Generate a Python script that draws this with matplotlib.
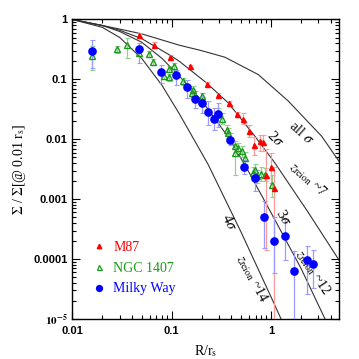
import numpy as np
import matplotlib
matplotlib.use("Agg")
import matplotlib.pyplot as plt
from matplotlib.lines import Line2D
from matplotlib.ticker import LogLocator, FixedLocator, FixedFormatter, NullFormatter

plt.rcParams['font.family'] = ['Liberation Serif', 'DejaVu Serif']
plt.rcParams['mathtext.fontset'] = 'stix'

# model curves as (R/rs, log10 Sigma)
all_sig_R = [0.01, 0.02, 0.03, 0.05, 0.12, 0.2, 0.344, 0.745, 1.49, 3.24, 4.9]
all_sig_L = [0.0, -0.10, -0.16, -0.24, -0.43, -0.52, -0.63, -0.92, -1.36, -1.95, -2.38]

sig2_R = [0.01, 0.02, 0.03, 0.05, 0.097, 0.12, 0.225, 0.37, 0.69, 1.10, 2.37, 4.9]
sig2_L = [0.0, -0.10, -0.18, -0.32, -0.60, -0.70, -1.06, -1.39, -1.95, -2.40, -3.22, -4.03]

sig3_R = [0.01, 0.02, 0.03, 0.05, 0.08, 0.12, 0.2, 0.386, 0.6, 1.02, 2.0, 3.5]
sig3_L = [0.0, -0.10, -0.20, -0.38, -0.65, -0.95, -1.35, -2.0, -2.55, -3.25, -4.15, -5.0]

sig4_R = [0.01, 0.02, 0.03, 0.05, 0.08, 0.12, 0.233, 0.5, 1.0, 1.28]
sig4_L = [0.0, -0.13, -0.30, -0.65, -1.10, -1.58, -2.42, -3.55, -4.63, -5.02]

# M87
m87_R = [0.0472, 0.0665, 0.0963, 0.152, 0.228, 0.295, 0.379, 0.452, 0.526, 0.60, 0.67, 0.78, 0.84, 0.90, 1.0, 1.06]
m87_S = [0.547, 0.382, 0.234, 0.166, 0.085, 0.0557, 0.0405, 0.0265, 0.0219, 0.0136, 0.0081, 0.0092, 0.0089, 0.00257, 0.0035, 0.00154]
m87_lo = [0.50, 0.35, 0.215, 0.155, 0.079, 0.052, 0.037, 0.024, 0.018, 0.011, 0.0055, 0.0065, 0.0065, 0.00014, 0.0019, 1e-6]
m87_hi = [0.60, 0.42, 0.255, 0.177, 0.091, 0.060, 0.044, 0.029, 0.027, 0.017, 0.011, 0.012, 0.012, 0.0069, 0.0058, 0.0035]

# NGC 1407
ngc_R = [0.0157, 0.0284, 0.0353, 0.0469, 0.0592, 0.065, 0.0838, 0.094, 0.094, 0.106, 0.131, 0.159, 0.165,
         0.201, 0.201, 0.295, 0.318, 0.357, 0.37, 0.434, 0.434, 0.469, 0.506, 0.547, 0.66, 0.69, 0.72, 0.80, 0.88, 1.03]
ngc_S = [0.244, 0.324, 0.382, 0.277, 0.27, 0.196, 0.116, 0.151, 0.108, 0.166, 0.093, 0.059, 0.0676,
         0.052, 0.043, 0.0275, 0.0219, 0.0145, 0.0127, 0.0076, 0.0059, 0.00716, 0.0063, 0.0049, 0.00274, 0.0031, 0.00247, 0.00265, 0.00257, 0.00174]
ngc_lo = [0.146, 0.28, 0.228, 0.245, 0.24, 0.175, 0.10, 0.135, 0.095, 0.146, 0.082, 0.050, 0.058,
          0.045, 0.037, 0.023, 0.018, 0.012, 0.0105, 0.0062, 0.0025, 0.0058, 0.0051, 0.0039, 0.0021, 0.0024, 0.0019, 0.0020, 0.0020, 0.0011]
ngc_hi = [0.36, 0.36, 0.49, 0.31, 0.30, 0.22, 0.135, 0.17, 0.122, 0.19, 0.106, 0.068, 0.078,
          0.060, 0.050, 0.033, 0.027, 0.0175, 0.0155, 0.0093, 0.0085, 0.0088, 0.0077, 0.0062, 0.0035, 0.0039, 0.0031, 0.0034, 0.0033, 0.0025]

# Milky Way
mw_R = [0.0157, 0.0469, 0.0776, 0.111, 0.1416, 0.1724, 0.2035, 0.234, 0.267, 0.294, 0.386, 0.537, 0.69,
        0.844, 1.07, 1.39, 1.70, 2.32, 2.63]
mw_S = [0.30, 0.32, 0.133, 0.117, 0.0748, 0.047, 0.040, 0.029, 0.0219, 0.0269, 0.0098, 0.00344, 0.00226,
        0.00051, 0.000204, 0.00024, 0.0000631, 0.0000973, 0.0000832]
mw_lo = [0.155, 0.19, 0.087, 0.082, 0.049, 0.033, 0.0275, 0.0176, 0.0145, 0.016, 0.0081, 0.0026, 0.00136,
         0.000152, 0.0000585, 0.0000955, 1e-6, 0.0000266, 0.0000327]
mw_hi = [0.46, 0.41, 0.177, 0.146, 0.099, 0.063, 0.059, 0.043, 0.0334, 0.040, 0.0127, 0.0045, 0.0031,
         0.00093, 0.00051, 0.00046, 0.000135, 0.000163, 0.000143]

ytick_vals = [1e-5, 1e-4, 1e-3, 1e-2, 1e-1, 1]
ytick_labels = [r'$\mathbf{10^{-5}}$', '0.0001', '0.001', '0.01', '0.1', '1']
xtick_vals = [0.01, 0.1, 1]
xtick_labels = ['0.01', '0.1', '1']


def yerr(s, lo, hi):
    s = np.array(s)
    return [s - np.array(lo), np.array(hi) - s]


fig = plt.figure(figsize=(3.59, 3.59), dpi=100)
ax = fig.add_axes([0.2014, 0.1114, 0.7437, 0.8343])
ax.set_xscale('log')
ax.set_yscale('log')

for R, L in [(all_sig_R, all_sig_L), (sig2_R, sig2_L), (sig3_R, sig3_L), (sig4_R, sig4_L)]:
    ax.plot(R, 10 ** np.array(L), color='#333333', lw=0.8, zorder=2)

ax.errorbar(ngc_R, ngc_S, yerr=yerr(ngc_S, ngc_lo, ngc_hi), fmt='none', ecolor='#90d090',
            elinewidth=0.9, capsize=1.8, capthick=0.8, zorder=3)
ax.errorbar(m87_R, m87_S, yerr=yerr(m87_S, m87_lo, m87_hi), fmt='none', ecolor='#ff9a9a',
            elinewidth=0.9, capsize=1.8, capthick=0.8, zorder=3)
ax.errorbar(mw_R, mw_S, yerr=yerr(mw_S, mw_lo, mw_hi), fmt='none', ecolor='#9a9aff',
            elinewidth=0.9, capsize=1.8, capthick=0.8, zorder=3)

ax.plot(ngc_R, ngc_S, ls='none', marker='^', ms=4.5, mfc='none', mec='#1a9a1a', mew=1.0, zorder=4)
ax.plot(m87_R, m87_S, ls='none', marker='^', ms=3.6, mfc='#ff0000', mec='#ff0000', zorder=5)
ax.plot(mw_R, mw_S, ls='none', marker='o', ms=5.2, mfc='#0000ff', mec='#0000ff', zorder=6)

ax.set_xlim(0.01, 4.87)
ax.set_ylim(1e-5, 1)

ax.xaxis.set_major_locator(FixedLocator(xtick_vals))
ax.xaxis.set_major_formatter(FixedFormatter(xtick_labels))
ax.xaxis.set_minor_locator(LogLocator(base=10, subs=np.arange(2, 10)))
ax.xaxis.set_minor_formatter(NullFormatter())
ax.yaxis.set_major_locator(FixedLocator(ytick_vals))
ax.yaxis.set_major_formatter(FixedFormatter(ytick_labels))
ax.yaxis.set_minor_locator(LogLocator(base=10, subs=np.arange(2, 10)))
ax.yaxis.set_minor_formatter(NullFormatter())

ax.tick_params(which='both', direction='in', top=True, right=True, width=0.8)
ax.tick_params(which='major', length=6)
ax.tick_params(which='minor', length=3)
ax.tick_params(axis='x', which='major', pad=5)
for lab in ax.get_xticklabels() + ax.get_yticklabels():
    lab.set_family('Liberation Sans')
    lab.set_fontweight('bold')
    lab.set_fontsize(8)
for sp in ax.spines.values():
    sp.set_linewidth(1.0)

ax.set_xlabel(r'R/r$_{\rm s}$', fontsize=10, labelpad=5)
ax.set_ylabel(r'$\Sigma$ / $\Sigma$[@ 0.01 r$_{\rm s}$]', fontsize=10, labelpad=4)

# curve labels
ax.text(2.04, 0.0129, r'all $\sigma$', rotation=-42, fontsize=10.5, ha='center', va='center')
ax.text(1.10, 0.0102, r'2$\sigma$', rotation=-45, fontsize=10.5, ha='center', va='center')
ax.text(2.36, 0.0021, r'$z_{\rm reion}$ ~7', rotation=-42, fontsize=10, ha='center', va='center')
ax.text(1.35, 0.00049, r'3$\sigma$', rotation=-60, fontsize=10.5, ha='center', va='center')
ax.text(2.66, 0.000061, r'$z_{\rm reion}$ ~12', rotation=-56, fontsize=10, ha='center', va='center')
ax.text(0.38, 0.00041, r'4$\sigma$', rotation=-65, fontsize=10.5, ha='center', va='center')
ax.text(0.645, 0.000047, r'$z_{\rm reion}$ ~14', rotation=-62, fontsize=10, ha='center', va='center')

handles = [Line2D([], [], ls='none', marker='^', ms=3.2, mfc='#ff0000', mec='#ff0000'),
           Line2D([], [], ls='none', marker='^', ms=3.6, mfc='none', mec='#1a9a1a', mew=0.9),
           Line2D([], [], ls='none', marker='o', ms=4.2, mfc='#0000ff', mec='#0000ff')]
leg = ax.legend(handles, ['M87', 'NGC 1407', 'Milky Way'], loc='lower left',
                bbox_to_anchor=(0.06, 0.06), frameon=False, fontsize=10,
                handlelength=0.8, handletextpad=0.6, labelspacing=0.55, borderaxespad=0)
for txt, c in zip(leg.get_texts(), ['#ff0000', '#1a9a1a', '#0000ff']):
    txt.set_color(c)

fig.savefig('out.png', dpi=100)
